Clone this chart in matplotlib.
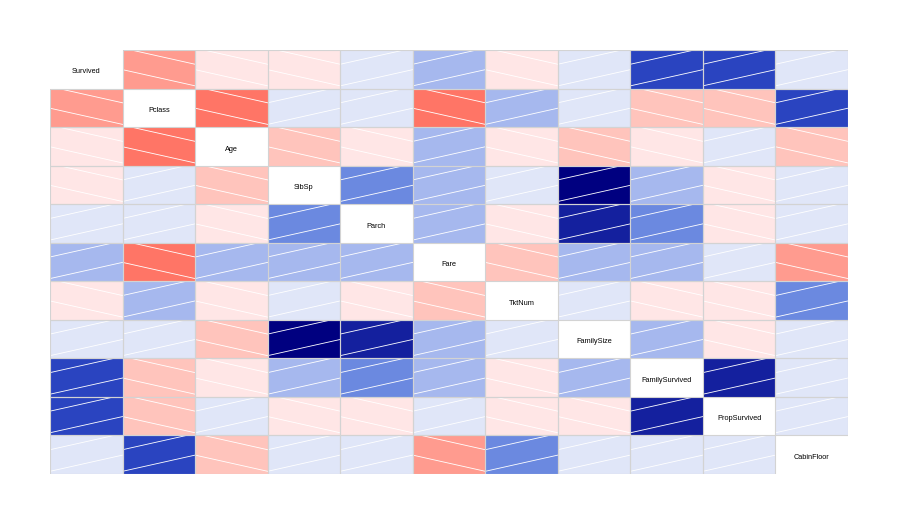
import numpy as np
import matplotlib
matplotlib.use("Agg")
from matplotlib import pyplot as plt
from matplotlib.colors import ListedColormap, BoundaryNorm
from matplotlib.patches import Rectangle

labels = ["Survived", "Pclass", "Age", "SibSp", "Parch", "Fare", "TktNum",
          "FamilySize", "FamilySurvived", "PropSurvived", "CabinFloor"]

# upper triangle of the correlation matrix, row by row
upper = [
    [-0.34, -0.07, -0.04, 0.08, 0.26, -0.05, 0.02, 0.52, 0.55, 0.10],
    [-0.41, 0.08, 0.02, -0.55, 0.22, 0.07, -0.20, -0.22, 0.53],
    [-0.24, -0.13, 0.17, -0.06, -0.25, -0.10, 0.05, -0.20],
    [0.41, 0.16, 0.07, 0.89, 0.20, -0.05, 0.03],
    [0.22, -0.04, 0.78, 0.33, -0.02, 0.02],
    [-0.18, 0.22, 0.20, 0.10, -0.33],
    [0.04, -0.03, -0.06, 0.36],
    [0.25, -0.03, 0.06],
    [0.75, 0.08],
    [0.10],
]

n = len(labels)
corr = np.eye(n)
for i, row in enumerate(upper):
    for k, v in enumerate(row):
        corr[i, i + 1 + k] = v
        corr[i + 1 + k, i] = v

bounds = [-1, -0.4, -0.3, -0.15, 0, 0.15, 0.3, 0.45, 0.6, 0.8, 1.0001]
colors = ["#FF7566", "#FF9B8F", "#FFC4BC", "#FFE6E6",
          "#E0E6F8", "#A6B8EE", "#6B89E0", "#2A44C0", "#14209E", "#000080"]
cmap = ListedColormap(colors)
norm = BoundaryNorm(bounds, cmap.N)

fig = plt.figure(figsize=(8.99, 5.25), dpi=100)
ax = fig.add_axes([50 / 899, 51 / 525, 798 / 899, 424 / 525])

masked = np.ma.masked_where(np.eye(n, dtype=bool), corr)
ax.pcolormesh(np.arange(n + 1), np.arange(n + 1), masked, cmap=cmap, norm=norm,
              edgecolors="none")

slope = 0.42
u = np.array([0.0, 1.0])
for i in range(n):
    for j in range(n):
        if i == j:
            ax.text(j + 0.5, i + 0.57, labels[i], ha="center", va="center",
                    fontsize=5.3, family="Liberation Sans")
            continue
        clip = Rectangle((j, i), 1, 1, transform=ax.transData)
        if corr[i, j] >= 0:
            offs = [0.37, 0.93, 1.49]
            sgn = -1
        else:
            offs = [-0.05, 0.51, 1.07]
            sgn = 1
        for c in offs:
            ln, = ax.plot(j + u, i + c + sgn * slope * u, color="white", lw=0.6)
            ln.set_clip_path(clip)
        ax.add_patch(Rectangle((j, i), 1, 1, fill=False, edgecolor="#D3D3D3",
                               lw=0.8, zorder=3))

ax.set_xlim(0, n)
ax.set_ylim(n, 0)
ax.axis("off")

plt.savefig("out.png", dpi=100)
